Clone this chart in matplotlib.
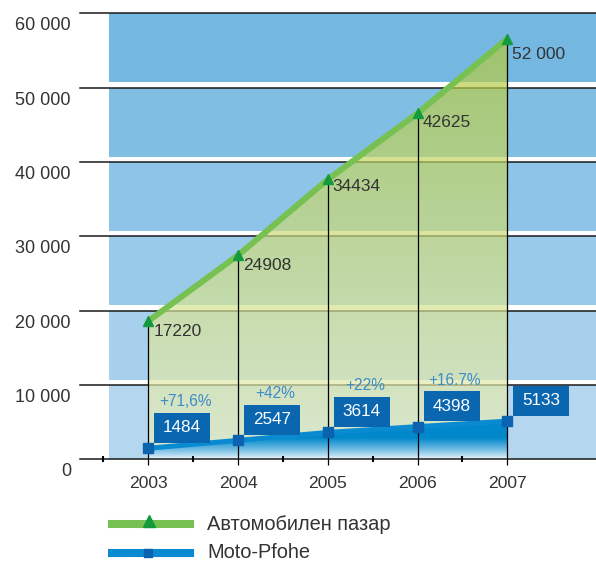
import numpy as np
import matplotlib.pyplot as plt
from matplotlib.patches import Rectangle, Polygon
from matplotlib.transforms import blended_transform_factory

plt.rcParams['font.family'] = ['Liberation Sans', 'DejaVu Sans']

# data
years = [2003, 2004, 2005, 2006, 2007]
car_labels = ['17220', '24908', '34434', '42625', '52 000']
car_heights = [18600, 27450, 37650, 46550, 56600]   # where the markers sit on the y scale
moto = [1484, 2547, 3614, 4398, 5133]
moto_growth = ['+71,6%', '+42%', '+22%', '+16.7%']
y_ticks = [0, 10000, 20000, 30000, 40000, 50000, 60000]
y_tick_labels = ['0', '10 000', '20 000', '30 000', '40 000', '50 000', '60 000']
legend_labels = ['Автомобилен пазар', 'Moto-Pfohe']

TXT = '#333333'
XMIN, XMAX = 2002.239, 2007.988
PX_X = 516 / (XMAX - XMIN)      # pixels per year
PX_Y = 446 / 60000              # pixels per unit

fig = plt.figure(figsize=(5.96, 5.62), dpi=100)
ax = fig.add_axes([80 / 596, (562 - 459.3) / 562, 516 / 596, 446 / 562])
ax.axis('off')

# blue background bands, darker towards the top
c_lo = np.array([180, 214, 238]) / 255
c_hi = np.array([116, 184, 226]) / 255
for k in range(6):
    t = k / 5
    lo = y_ticks[k] + (700 if k else 0)
    ax.add_patch(Rectangle((2002.56, lo), 6, y_ticks[k + 1] - lo,
                           color=c_lo * (1 - t) + c_hi * t, lw=0, zorder=1))

# grid lines
for v in y_ticks:
    ax.plot([XMIN, XMAX], [v, v], color='#1a1a1a', lw=1.1,
            zorder=6 if v == 0 else 2, clip_on=False)


def gradient_fill(xs, ys, bottom_rgb, top_rgb, alpha, z, ramp=None):
    verts = [(xs[0], 0)] + list(zip(xs, ys)) + [(xs[-1], 0)]
    poly = Polygon(verts, closed=True, fc='none', ec='none')
    ax.add_patch(poly)
    t = np.linspace(0, 1, 256)[:, None]
    if ramp is not None:
        t = np.clip(t * max(ys) / ramp, 0, 1) ** 0.8
    rgb = np.array(bottom_rgb) / 255 * (1 - t) + np.array(top_rgb) / 255 * t
    rgba = np.concatenate([rgb, np.full((256, 1), alpha)], axis=1)[:, None, :]
    im = ax.imshow(rgba, extent=(xs[0], xs[-1], 0, max(ys)), origin='lower',
                   aspect='auto', zorder=z, interpolation='bilinear')
    im.set_clip_path(poly)


gradient_fill(years, car_heights, (235, 240, 195), (178, 201, 58), 0.7, 3)
gradient_fill(years, moto, (245, 249, 253), (0, 136, 204), 1.0, 3.5, ramp=2800)

# drop lines from each car point
ax.vlines(years, -700, car_heights, color='black', lw=0.9, zorder=4, clip_on=False)

# half-year ticks on the base line
ax.plot([y - 0.5 for y in years], [0] * len(years), '|', ms=4, mew=1.5,
        color='black', zorder=6, clip_on=False)

# series
ax.plot(years, moto, color='#0a8ad0', lw=3.6, zorder=5, solid_capstyle='butt')
ax.plot(years, moto, 's', color='#0b62ae', ms=6.5, zorder=6)
ax.plot(years, car_heights, color='#76c151', lw=4.3, zorder=5,
        solid_joinstyle='round', solid_capstyle='butt')
ax.plot(years, car_heights, '^', color='#139a3e', ms=6.5, zorder=6)

# car value labels
car_drop = [10, 10.5, 7, 9, 15.6]
for yr, h, lbl, d in zip(years, car_heights, car_labels, car_drop):
    ax.annotate(lbl, (yr, h), xytext=(3.6, -d * 0.72), textcoords='offset points',
                ha='left', va='center', fontsize=12.5, color=TXT, zorder=7)

# moto value boxes and growth labels
bw, bh = 56 / PX_X, 30 / PX_Y
for i, (yr, m) in enumerate(zip(years, moto)):
    cx = yr + 34 / PX_X
    cy = m + 20.5 / PX_Y
    ax.add_patch(Rectangle((cx - bw / 2, cy - bh / 2), bw, bh, color='#0b66b0',
                           lw=0, zorder=7))
    ax.text(cx, cy, str(m), ha='center', va='center', color='white',
            fontsize=12.3, zorder=8)
    if i < len(moto_growth):
        ax.text(cx + 3 / PX_X, cy + 26 / PX_Y, moto_growth[i], ha='center',
                va='center', color='#3d8bc9', fontsize=11.2, zorder=8)

# axis labels
trans = blended_transform_factory(ax.transAxes, ax.transData)
for v, lbl in zip(y_ticks, y_tick_labels):
    ax.annotate(lbl, (0, v), xycoords=trans, xytext=(-6.5, -9),
                textcoords='offset points', ha='right', va='center',
                fontsize=13, color=TXT)
for yr in years:
    ax.annotate(str(yr), (yr, 0), xytext=(0, -17.3), textcoords='offset points',
                ha='center', va='center', fontsize=12.6, color=TXT)

ax.set_xlim(XMIN, XMAX)
ax.set_ylim(0, 60000)

# legend, drawn in pixel coordinates
lax = fig.add_axes([0, 0, 1, 1])
lax.set_xlim(0, 596)
lax.set_ylim(562, 0)
lax.axis('off')
lax.patch.set_visible(False)
lax.plot([108, 194], [524, 524], color='#76c152', lw=5.8, solid_capstyle='butt')
lax.plot([149], [521], '^', color='#139a3e', ms=8.6)
lax.plot([108, 194], [553, 553], color='#0a8ad0', lw=5.8, solid_capstyle='butt')
lax.plot([147.5], [553], 's', color='#0b62ae', ms=6)
lax.text(207, 524, legend_labels[0], ha='left', va='center', fontsize=14.4, color=TXT)
lax.text(207, 553, legend_labels[1], ha='left', va='center', fontsize=14.4, color=TXT)

fig.savefig('out.png', dpi=100)
